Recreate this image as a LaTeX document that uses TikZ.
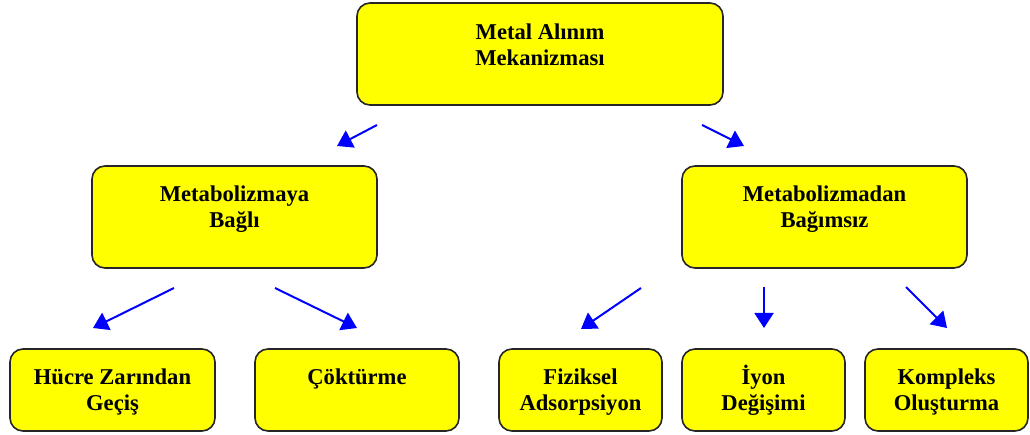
\documentclass[tikz,border=0pt]{standalone}
\usepackage{fontspec}
\setmainfont{Liberation Serif}
\usetikzlibrary{arrows.meta}
\definecolor{boxyellow}{RGB}{255,255,0}
\definecolor{arrblue}{RGB}{0,0,255}
\begin{document}
\begin{tikzpicture}[x=1pt,y=-1pt,
  box/.style={draw=black!85,line width=1.6pt,fill=boxyellow,rounded corners=13pt,inner sep=0pt},
  lbl/.style={anchor=north,inner sep=0pt,align=center,font=\bfseries\fontsize{22.6}{26}\selectfont},
  arr/.style={draw=arrblue,line width=2pt,-{Triangle[length=15pt,width=19pt]}}]
\useasboundingbox (0,0) rectangle (1030,435);
% boxes
\node[box,minimum width=366pt,minimum height=102pt] (top) at (540,54) {};
\node[box,minimum width=285pt,minimum height=102pt] (ml) at (234.5,217) {};
\node[box,minimum width=285pt,minimum height=102pt] (mr) at (824.5,217) {};
\node[box,minimum width=205pt,minimum height=82pt] (b1) at (112.5,390) {};
\node[box,minimum width=204pt,minimum height=82pt] (b2) at (357,390) {};
\node[box,minimum width=163pt,minimum height=82pt] (b3) at (580.5,390) {};
\node[box,minimum width=163pt,minimum height=82pt] (b4) at (763.5,390) {};
\node[box,minimum width=163pt,minimum height=82pt] (b5) at (946.5,390) {};
% labels
\node[lbl] (ttop) at ([yshift=-21pt]top.north) {Metal Alınım\\ Mekanizması};
\node[lbl] (tml) at ([yshift=-20pt]ml.north) {Metabolizmaya\\Bağlı};
\node[lbl] (tmr) at ([yshift=-20pt]mr.north) {Metabolizmadan\\Bağımsız};
\node[lbl] (tb1) at ([yshift=-20pt]b1.north) {Hücre Zarından\\Geçiş};
\node[lbl] (tb2) at ([yshift=-20pt]b2.north) {Çöktürme};
\node[lbl] (tb3) at ([yshift=-20pt]b3.north) {Fiziksel\\Adsorpsiyon};
\node[lbl] (tb4) at ([yshift=-17pt]b4.north) {İyon\\Değişimi};
\node[lbl] (tb5) at ([yshift=-20pt]b5.north) {Kompleks\\Oluşturma};
% arrow end points
\coordinate (a1s) at (377,125); \coordinate (a1e) at (337,146);
\coordinate (a2s) at (702,125); \coordinate (a2e) at (744,146);
\coordinate (a3s) at (174,288); \coordinate (a3e) at (93,328);
\coordinate (a4s) at (275,288); \coordinate (a4e) at (357,328);
\coordinate (a5s) at (641,288); \coordinate (a5e) at (581,329);
\coordinate (a6s) at (764,287); \coordinate (a6e) at (764,328);
\coordinate (a7s) at (906,287); \coordinate (a7e) at (947,328);
\draw[arr] (a1s) -- (a1e);
\draw[arr] (a2s) -- (a2e);
\draw[arr] (a3s) -- (a3e);
\draw[arr] (a4s) -- (a4e);
\draw[arr] (a5s) -- (a5e);
\draw[arr] (a6s) -- (a6e);
\draw[arr] (a7s) -- (a7e);
\end{tikzpicture}
\end{document}
